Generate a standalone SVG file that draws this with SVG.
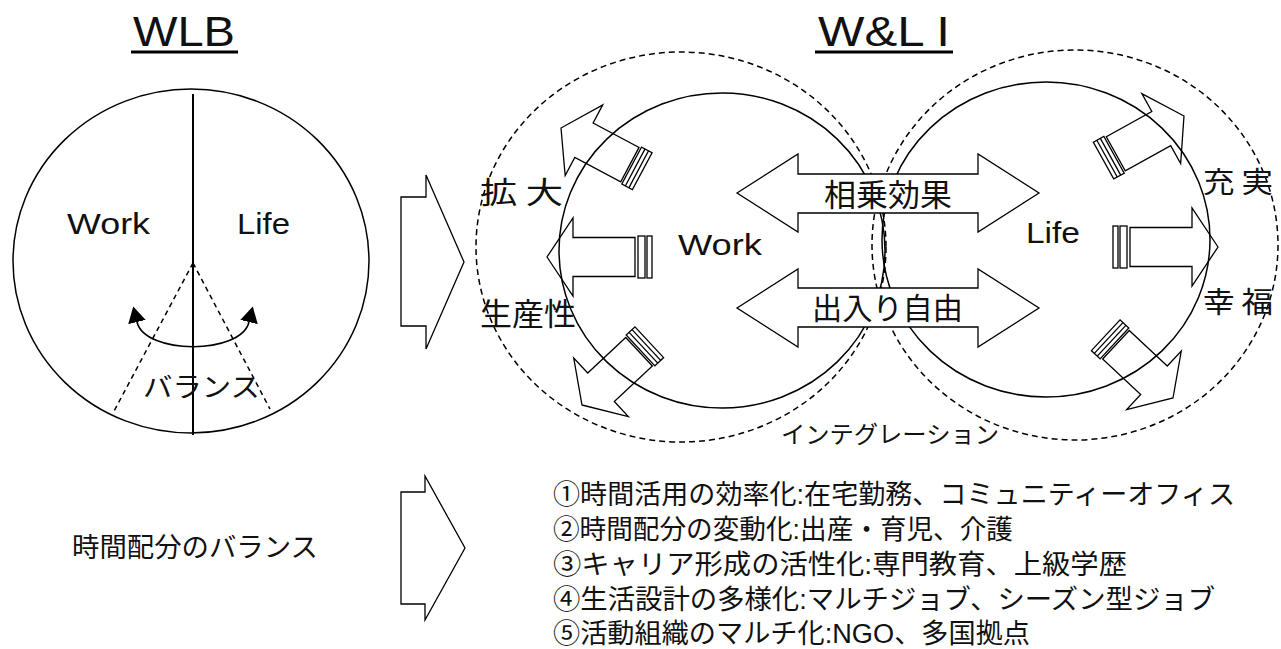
<svg xmlns="http://www.w3.org/2000/svg" xmlns:xlink="http://www.w3.org/1999/xlink" width="1281" height="649" viewBox="0 0 1281 649">
<style>
.ln{fill:none;stroke:#000;stroke-width:1.5}
.dash{fill:none;stroke:#000;stroke-width:1.5;stroke-dasharray:6 4}
.blk{fill:#fff;stroke:#000;stroke-width:1.3;stroke-linejoin:miter}
.sm{fill:none;stroke:#000;stroke-width:1.3}
.lat{font-family:"Liberation Sans",Arial,sans-serif;fill:#111}
.jp{font-family:"Noto Sans CJK JP","Noto Sans CJK SC",sans-serif;fill:#111}
.lst{font-family:"Liberation Sans","Noto Sans CJK JP","Noto Sans CJK SC",sans-serif;fill:#111;font-size:27px}
</style>
<defs>
<marker id="tri" viewBox="0 0 16 18" refX="0" refY="9" markerWidth="16" markerHeight="18" markerUnits="userSpaceOnUse" orient="auto-start-reverse">
<path d="M0,0 L16,9 L0,18 z" fill="#000"/>
</marker>
<g id="arrowLong">
<polygon class="sm" points="0,0 -26,-39 -26,-19.5 -88,-19.5 -88,19.5 -26,19.5 -26,39"/>
<rect class="sm" x="-98" y="-21" width="7" height="42"/>
<rect class="sm" x="-105" y="-21" width="5" height="42"/>
</g>
<g id="arrowShort">
<polygon class="sm" points="0,0 -26,-40 -26,-19.5 -78,-19.5 -78,19.5 -26,19.5 -26,40"/>
<rect class="sm" x="-92" y="-21" width="12" height="42"/>
<line class="sm" x1="-88" y1="-21" x2="-88" y2="21"/>
<line class="sm" x1="-84" y1="-21" x2="-84" y2="21"/>
</g>
</defs>
<rect width="1281" height="649" fill="#fff"/>

<!-- WLB -->
<g id="wlb-title">
<text class="lat" x="133" y="46" font-size="42" textLength="102" lengthAdjust="spacingAndGlyphs">WLB</text>
<line x1="131" y1="52" x2="238" y2="52" stroke="#000" stroke-width="3"/>
</g>
<g id="wlb-circle">
<ellipse class="ln" cx="191" cy="261" rx="178" ry="172"/>
<line x1="193" y1="94" x2="193" y2="435" stroke="#000" stroke-width="2"/>
<line class="dash" x1="193" y1="263" x2="113" y2="413" style="stroke-dasharray:5 4"/>
<line class="dash" x1="193" y1="263" x2="270" y2="409" style="stroke-dasharray:5 4"/>
<text class="lat" x="67" y="234" font-size="29" textLength="83" lengthAdjust="spacingAndGlyphs">Work</text>
<text class="lat" x="237" y="234" font-size="29" textLength="53" lengthAdjust="spacingAndGlyphs">Life</text>
<path d="M137,322 C145,355 241,355 249,322" fill="none" stroke="#000" stroke-width="1.6" marker-start="url(#tri)" marker-end="url(#tri)"/>
<text class="jp" x="143" y="397" font-size="27" textLength="117" lengthAdjust="spacingAndGlyphs">バランス</text>
</g>

<!-- W&L I -->
<g id="wli-title">
<text class="lat" x="818" y="46" font-size="42" textLength="132" lengthAdjust="spacingAndGlyphs">W&amp;L I</text>
<line x1="815" y1="52" x2="953" y2="52" stroke="#000" stroke-width="3"/>
</g>
<g id="integration">
<ellipse class="dash" cx="681" cy="247" rx="205" ry="195"/>
<ellipse class="dash" cx="1075" cy="245" rx="203" ry="195"/>
<text class="jp" x="781" y="443" font-size="24" textLength="218" lengthAdjust="spacingAndGlyphs">インテグレーション</text>
</g>
<g id="work-circle">
<ellipse class="ln" cx="722" cy="250.5" rx="163" ry="157.5"/>
<text class="lat" x="678" y="255" font-size="29" textLength="84" lengthAdjust="spacingAndGlyphs">Work</text>
</g>
<g id="life-circle">
<ellipse class="ln" cx="1046" cy="239.5" rx="164" ry="157.5"/>
<text class="lat" x="1026" y="243" font-size="29" textLength="54" lengthAdjust="spacingAndGlyphs">Life</text>
</g>

<g id="connectors">
<polygon class="blk" points="401,197 426,197 426,175 464,262 426,349 426,326 401,326"/>
<polygon class="blk" points="401,492 425,492 425,476 465,548 425,620 425,604 401,604"/>
<polygon class="blk" points="737,193 798,154 798,174 978,174 978,154 1039,193 978,232 978,213 798,213 798,232"/>
<polygon class="blk" points="737,308 798,269 798,288 978,288 978,269 1039,308 978,347 978,327 798,327 798,347"/>
<use xlink:href="#arrowShort" transform="translate(561,128) rotate(208)"/>
<use xlink:href="#arrowLong" transform="translate(547,257) rotate(180)"/>
<use xlink:href="#arrowShort" transform="translate(582,405) rotate(137)"/>
<use xlink:href="#arrowShort" transform="translate(1184,116) rotate(-29)"/>
<use xlink:href="#arrowLong" transform="translate(1218,247)"/>
<use xlink:href="#arrowShort" transform="translate(1173,398) rotate(43)"/>
</g>

<g id="labels">
<text class="jp" x="824" y="206" font-size="31" textLength="128" lengthAdjust="spacingAndGlyphs">相乗効果</text>
<text class="jp" x="812" y="319" font-size="30" textLength="151" lengthAdjust="spacingAndGlyphs">出入り自由</text>
<text class="jp" x="480" y="203" font-size="30" textLength="83" lengthAdjust="spacingAndGlyphs">拡 大</text>
<text class="jp" x="480" y="325" font-size="31" textLength="96" lengthAdjust="spacingAndGlyphs">生産性</text>
<text class="jp" x="1203" y="193" font-size="29" textLength="70" lengthAdjust="spacingAndGlyphs">充 実</text>
<text class="jp" x="1203" y="313" font-size="29" textLength="70" lengthAdjust="spacingAndGlyphs">幸 福</text>
</g>

<g id="bottom-left">
<text class="jp" x="72" y="557" font-size="27" textLength="246" lengthAdjust="spacingAndGlyphs">時間配分のバランス</text>
</g>
<g id="bottom-list">
<text class="lst" x="553" y="504" textLength="682" lengthAdjust="spacingAndGlyphs">①時間活用の効率化:在宅勤務、コミュニティーオフィス</text>
<text class="lst" x="553" y="539" textLength="460" lengthAdjust="spacingAndGlyphs">②時間配分の変動化:出産・育児、介護</text>
<text class="lst" x="553" y="574" textLength="574" lengthAdjust="spacingAndGlyphs">③キャリア形成の活性化:専門教育、上級学歴</text>
<text class="lst" x="553" y="609" textLength="662" lengthAdjust="spacingAndGlyphs">④生活設計の多様化:マルチジョブ、シーズン型ジョブ</text>
<text class="lst" x="553" y="643" textLength="477" lengthAdjust="spacingAndGlyphs">⑤活動組織のマルチ化:NGO、多国拠点</text>
</g>
</svg>
